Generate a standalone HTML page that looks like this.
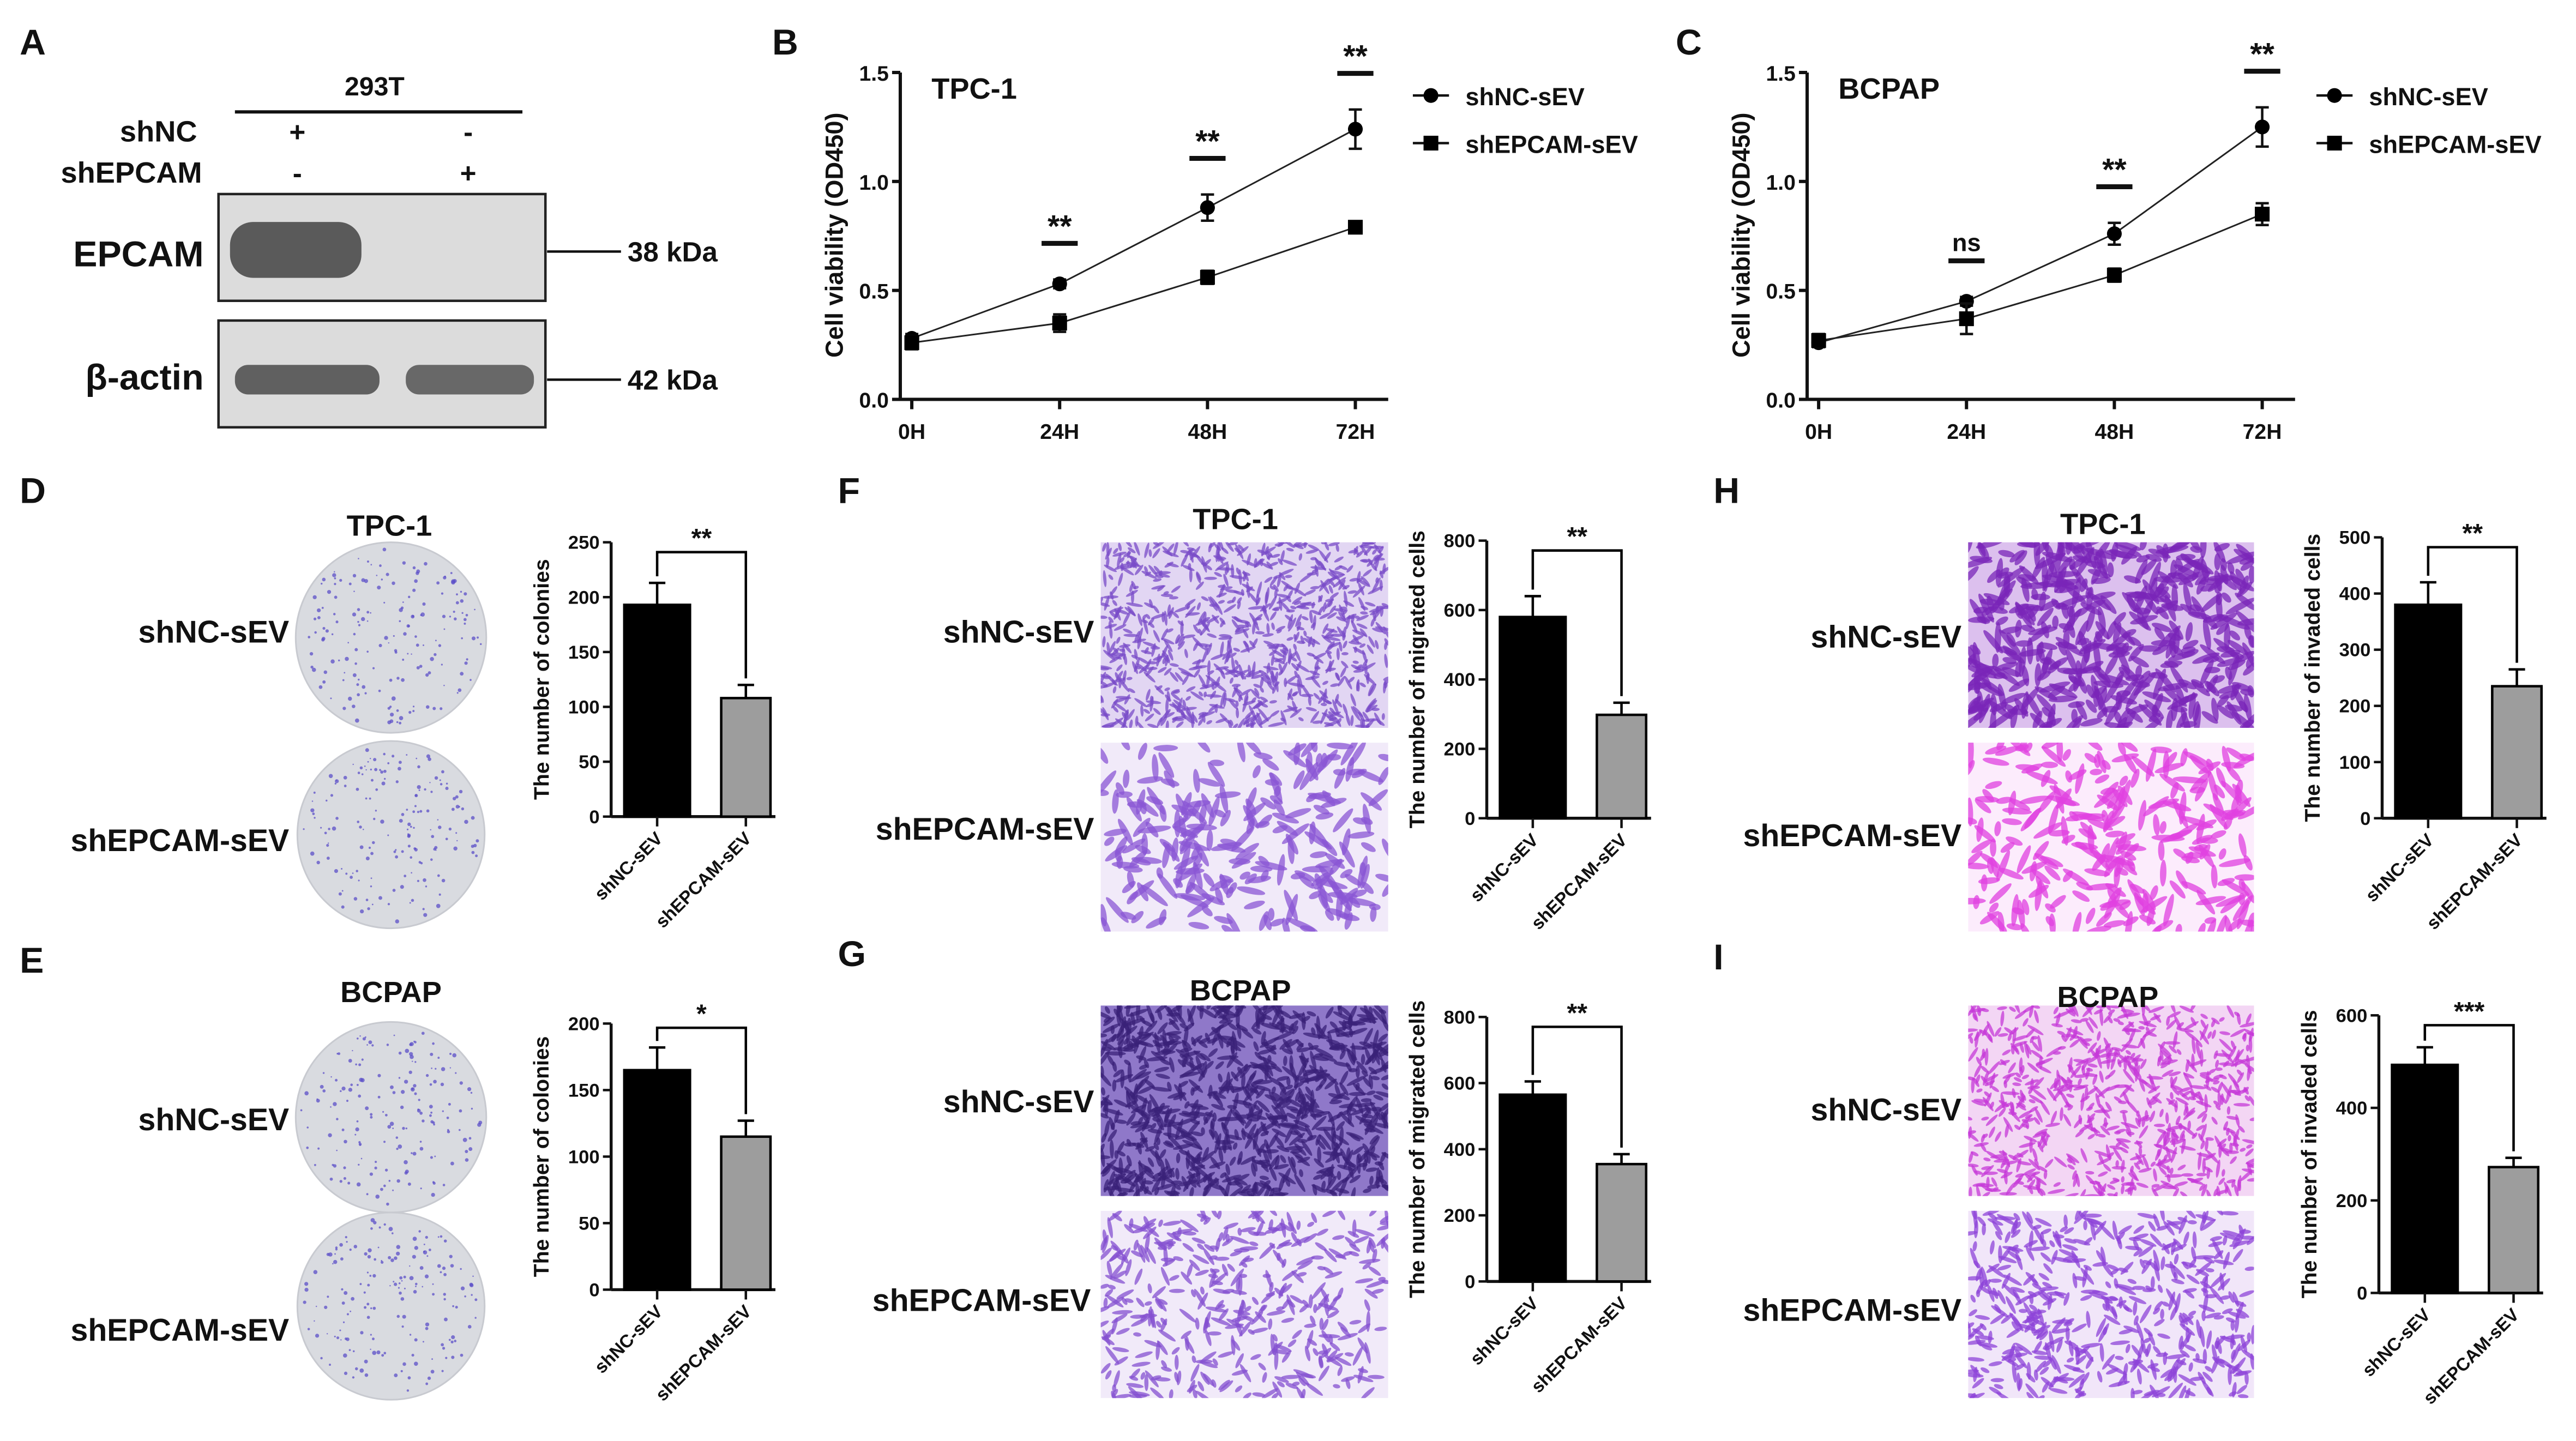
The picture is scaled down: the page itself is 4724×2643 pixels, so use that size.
<!DOCTYPE html>
<html><head><meta charset="utf-8"><style>
html,body{margin:0;padding:0;background:#fff;}
svg{display:block;font-family:"Liberation Sans",Arial,sans-serif;}
text{font-weight:bold;}
</style></head><body>
<svg id="fig" width="4724" height="2643" viewBox="0 0 1568 877">
<g id="root"></g>
</svg>
<script>
// ---------- DATA ----------
const timeLabels = ["0H","24H","48H","72H"];
const bNC = [0.28,0.53,0.88,1.24];
const bNCErr = [0.02,0.02,0.06,0.09];
const bEP = [0.26,0.35,0.56,0.79];
const bEPErr = [0.03,0.04,0.03,0.02];
const bSig = ["","**","**","**"];
const cNC = [0.26,0.45,0.76,1.25];
const cNCErr = [0.02,0.02,0.05,0.09];
const cEP = [0.27,0.37,0.57,0.85];
const cEPErr = [0.03,0.07,0.03,0.05];
const cSig = ["","ns","**","**"];
const lineTicks = [0,0.5,1.0,1.5];
const lineTickLabels = ["0.0","0.5","1.0","1.5"];
const barCategories = ["shNC-sEV","shEPCAM-sEV"];
const dValues = [193,108]; const dErr = [20,12]; const dTicks = [0,50,100,150,200,250];
const eValues = [165,115]; const eErr = [17,12]; const eTicks = [0,50,100,150,200];
const fValues = [580,298]; const fErr = [60,35]; const fTicks = [0,200,400,600,800];
const gValues = [565,355]; const gErr = [40,30]; const gTicks = [0,200,400,600,800];
const hValues = [380,235]; const hErr = [40,30]; const hTicks = [0,100,200,300,400,500];
const iValues = [493,272]; const iErr = [38,20]; const iTicks = [0,200,400,600];

const NS="http://www.w3.org/2000/svg";
const root=document.getElementById('root');
function el(tag,attrs,parent,txt){const e=document.createElementNS(NS,tag);for(const k in attrs)e.setAttribute(k,attrs[k]);if(txt!==undefined)e.textContent=txt;(parent||root).appendChild(e);return e;}
function grp(name){const g=el('g',{});return g;}
function txt(g,x,y,s,size,anchor,extra){const t=el('text',Object.assign({x:x,y:y,'font-size':size,'text-anchor':anchor||'start',fill:'#111'},extra||{}),g,s);return t;}

// panel letters
[["A",12,33],["B",470,33],["C",1020,33],["D",12,306],["E",12,592],["F",510,306],["G",510,588],["H",1043,306],["I",1043,590]].forEach(p=>{
 const g=grp('panel-label-'+p[0].toLowerCase());txt(g,p[1],p[2],p[0],22,'start');
});

// ---------- Panel A western blot ----------
(function(){
 const g=grp('western-blot-a');
 txt(g,228,58,"293T",16,'middle');
 el('line',{x1:143,y1:68,x2:318,y2:68,stroke:'#111','stroke-width':2},g);
 txt(g,120,86,"shNC",18,'end');txt(g,123,111,"shEPCAM",18,'end');
 txt(g,181,86,"+",17,'middle');txt(g,285,86,"-",17,'middle');
 txt(g,181,111,"-",17,'middle');txt(g,285,111,"+",17,'middle');
 el('rect',{x:133,y:118,width:199,height:65,fill:'#dcdcdc',stroke:'#222','stroke-width':1.5},g);
 el('rect',{x:140,y:135,width:80,height:34,rx:14,fill:'#5a5a5a'},g);
 el('rect',{x:133,y:195,width:199,height:65,fill:'#dcdcdc',stroke:'#222','stroke-width':1.5},g);
 el('rect',{x:143,y:222,width:88,height:18,rx:8,fill:'#606060'},g);
 el('rect',{x:247,y:222,width:78,height:18,rx:8,fill:'#686868'},g);
 txt(g,124,162,"EPCAM",22,'end');txt(g,124,237,"β-actin",22,'end');
 el('line',{x1:333,y1:153,x2:378,y2:153,stroke:'#111','stroke-width':1.5},g);
 el('line',{x1:333,y1:231,x2:378,y2:231,stroke:'#111','stroke-width':1.5},g);
 txt(g,382,159,"38 kDa",17,'start');txt(g,382,237,"42 kDa",17,'start');
})();

// ---------- line charts ----------
function lineChart(name,x0,title,nc,ncE,ep,epE,sig,legX){
 const g=grp(name);
 const yb=243, yt=44, step=90;
 const X=i=>x0+i*step, Y=v=>yb-(v/1.5)*(yb-yt);
 el('line',{x1:x0-7,y1:yb,x2:x0+290,y2:yb,stroke:'#111','stroke-width':2},g);
 el('line',{x1:x0-7,y1:yb,x2:x0-7,y2:yt,stroke:'#111','stroke-width':2},g);
 lineTicks.forEach((t,i)=>{el('line',{x1:x0-12,y1:Y(t),x2:x0-7,y2:Y(t),stroke:'#111','stroke-width':2},g);txt(g,x0-14,Y(t)+5,lineTickLabels[i],13,'end');});
 timeLabels.forEach((l,i)=>{el('line',{x1:X(i),y1:yb,x2:X(i),y2:yb+6,stroke:'#111','stroke-width':2},g);txt(g,X(i),yb+24,l,13,'middle');});
 txt(g,x0-42,yb-100,"Cell viability (OD450)",15,'middle',{transform:`rotate(-90 ${x0-42} ${yb-100})`});
 txt(g,x0+12,60,title,18,'start');
 [[nc,ncE],[ep,epE]].forEach((s,k)=>{
  el('polyline',{points:s[0].map((v,i)=>X(i)+','+Y(v)).join(' '),fill:'none',stroke:'#222','stroke-width':1},g);
  s[0].forEach((v,i)=>{
   el('line',{x1:X(i),y1:Y(v+s[1][i]),x2:X(i),y2:Y(v-s[1][i]),stroke:'#111','stroke-width':1.5},g);
   el('line',{x1:X(i)-4,y1:Y(v+s[1][i]),x2:X(i)+4,y2:Y(v+s[1][i]),stroke:'#111','stroke-width':1.5},g);
   el('line',{x1:X(i)-4,y1:Y(v-s[1][i]),x2:X(i)+4,y2:Y(v-s[1][i]),stroke:'#111','stroke-width':1.5},g);
   const m=k===0?el('circle',{cx:X(i),cy:Y(v),r:4.5,fill:'#000'},g):el('rect',{x:X(i)-4.5,y:Y(v)-4.5,width:9,height:9,fill:'#000'},g);
   
   
  });
 });
 sig.forEach((s,i)=>{ if(!s)return; const top=Math.max(nc[i]+ncE[i],ep[i]+epE[i]); const ly=Y(top)-22;
  el('line',{x1:X(i)-11,y1:ly,x2:X(i)+11,y2:ly,stroke:'#111','stroke-width':3},g);
  txt(g,X(i),ly-(s==='ns'?6:4),s,s==='ns'?15:19,'middle');});
 const lg=grp(name+'-legend');
 [["shNC-sEV",0],["shEPCAM-sEV",1]].forEach((e,k)=>{const ly=58+k*29;
  el('line',{x1:legX,y1:ly,x2:legX+22,y2:ly,stroke:'#111','stroke-width':1.5},lg);
  if(k===0)el('circle',{cx:legX+11,cy:ly,r:4.5,fill:'#000'},lg);else el('rect',{x:legX+6.5,y:ly-4.5,width:9,height:9,fill:'#000'},lg);
  txt(lg,legX+32,ly+6,e[0],15,'start');});
}
lineChart('line-chart-b-tpc1',555,"TPC-1",bNC,bNCErr,bEP,bEPErr,bSig,860);
lineChart('line-chart-c-bcpap',1107,"BCPAP",cNC,cNCErr,cEP,cEPErr,cSig,1410);

// ---------- bar charts ----------
function barChart(name,ax,y0,yTop,ticks,vals,errs,ylabel,sig){
 const g=grp(name);
 const max=ticks[ticks.length-1]; const Y=v=>y0-(v/max)*(y0-yTop);
 el('line',{x1:ax,y1:y0,x2:ax,y2:yTop,stroke:'#111','stroke-width':1.8},g);
 el('line',{x1:ax,y1:y0,x2:ax+100,y2:y0,stroke:'#111','stroke-width':1.8},g);
 ticks.forEach(t=>{el('line',{x1:ax-5,y1:Y(t),x2:ax,y2:Y(t),stroke:'#111','stroke-width':1.5},g);txt(g,ax-7,Y(t)+4,String(t),11.5,'end');});
 vals.forEach((v,i)=>{
  const x=i===0?ax+8:ax+67, w=i===0?40:30, c=x+w/2;
  const r=el('rect',{x:x,y:Y(v),width:w,height:y0-Y(v),fill:i===0?'#000':'#9d9d9d',stroke:'#000','stroke-width':1.5},g);
  
  
  el('line',{x1:c,y1:Y(v),x2:c,y2:Y(v+errs[i]),stroke:'#000','stroke-width':1.5},g);
  el('line',{x1:c-5,y1:Y(v+errs[i]),x2:c+5,y2:Y(v+errs[i]),stroke:'#000','stroke-width':1.5},g);
  el('line',{x1:c,y1:y0,x2:c,y2:y0+6,stroke:'#111','stroke-width':1.5},g);
  txt(g,c+4,y0+14,barCategories[i],11,'end',{transform:`rotate(-45 ${c+4} ${y0+14})`});
 });
 const c1=ax+28,c2=ax+82; const top=Math.max(vals[0]+errs[0],vals[1]+errs[1]);
 const by=Math.min(Y(top)-12, yTop+6);
 el('polyline',{points:`${c1},${Y(vals[0]+errs[0])-4} ${c1},${by} ${c2},${by} ${c2},${Y(vals[1]+errs[1])-4}`,fill:'none',stroke:'#000','stroke-width':1.5},g);
 txt(g,(c1+c2)/2,by-3,sig,16,'middle');
 const ym=(y0+yTop)/2; txt(g,ax-38,ym,ylabel,13,'middle',{transform:`rotate(-90 ${ax-38} ${ym})`});
}
barChart('bar-chart-d',372,497,330,dTicks,dValues,dErr,"The number of colonies","**");
barChart('bar-chart-e',372,785,623,eTicks,eValues,eErr,"The number of colonies","*");
barChart('bar-chart-f',905,498,329,fTicks,fValues,fErr,"The number of migrated cells","**");
barChart('bar-chart-g',905,780,619,gTicks,gValues,gErr,"The number of migrated cells","**");
barChart('bar-chart-h',1450,498,327,hTicks,hValues,hErr,"The number of invaded cells","**");
barChart('bar-chart-i',1448,787,618,iTicks,iValues,iErr,"The number of invaded cells","***");

// ---------- textures (images) ----------
let seed=7; function rnd(){seed=(seed*16807)%2147483647;return seed/2147483647;}
function dish(name,cx,cy,r){
 const g=grp(name);
 el('circle',{cx:cx,cy:cy,r:r,fill:'#d9dbe0',stroke:'#c8cad0','stroke-width':1},g);
 for(let i=0;i<170;i++){const a=rnd()*Math.PI*2,d=Math.sqrt(rnd())*(r-3);
  el('circle',{cx:cx+Math.cos(a)*d,cy:cy+Math.sin(a)*d,r:0.4+rnd()*0.9,fill:'#5b4fc8','fill-opacity':0.75},g);}
}
dish('colony-dish-d-shnc',238,388,58);dish('colony-dish-d-shepcam',238,508,57);
dish('colony-dish-e-shnc',238,680,58);dish('colony-dish-e-shepcam',238,795,57);
function micro(name,x,y,w,h,bg,fg,n,len){
 const g=grp(name);
 const cp=el('clipPath',{id:'cp-'+name},g);el('rect',{x:x,y:y,width:w,height:h},cp);
 const inner=el('g',{'clip-path':`url(#cp-${name})`},g);
 el('rect',{x:x,y:y,width:w,height:h,fill:bg},inner);
 for(let i=0;i<n;i++){const px=x+rnd()*w,py=y+rnd()*h,a=rnd()*180;
  el('ellipse',{cx:px,cy:py,rx:len*(0.5+rnd()),ry:len*0.28,fill:fg,'fill-opacity':0.75,transform:`rotate(${a} ${px} ${py})`},inner);}
}
micro('micrograph-f-shnc',670,330,175,113,'#e2d6f3','#7a4cc8',900,3.5);
micro('micrograph-f-shepcam',670,452,175,115,'#f1eaf9','#8a56d4',260,7);
micro('micrograph-g-shnc',670,612,175,116,'#8f78c9','#3a2278',900,4.5);
micro('micrograph-g-shepcam',670,737,175,114,'#f1eaf9','#8450d0',420,4.5);
micro('micrograph-h-shnc',1198,330,174,113,'#dcc0ee','#7a25b8',500,7);
micro('micrograph-h-shepcam',1198,452,174,115,'#fcecfc','#e040e0',280,7);
micro('micrograph-i-shnc',1198,612,174,116,'#f3d6f4','#c63ad8',750,3.8);
micro('micrograph-i-shepcam',1198,737,174,114,'#f1e6f9','#8d44d8',520,4.5);

// image labels
(function(){const g=grp('image-labels');
 [["TPC-1",237,326],["BCPAP",238,610],["TPC-1",752,322],["BCPAP",755,609],["TPC-1",1280,325],["BCPAP",1283,613]].forEach(l=>txt(g,l[1],l[2],l[0],18,'middle'));
 [["shNC-sEV",176,391],["shEPCAM-sEV",176,518],["shNC-sEV",176,688],["shEPCAM-sEV",176,816],
  ["shNC-sEV",666,391],["shEPCAM-sEV",666,511],["shNC-sEV",666,677],["shEPCAM-sEV",664,798],
  ["shNC-sEV",1194,394],["shEPCAM-sEV",1194,515],["shNC-sEV",1194,682],["shEPCAM-sEV",1194,804]].forEach(l=>txt(g,l[1],l[2],l[0],19,'end'));
})();
</script>
</body></html>
